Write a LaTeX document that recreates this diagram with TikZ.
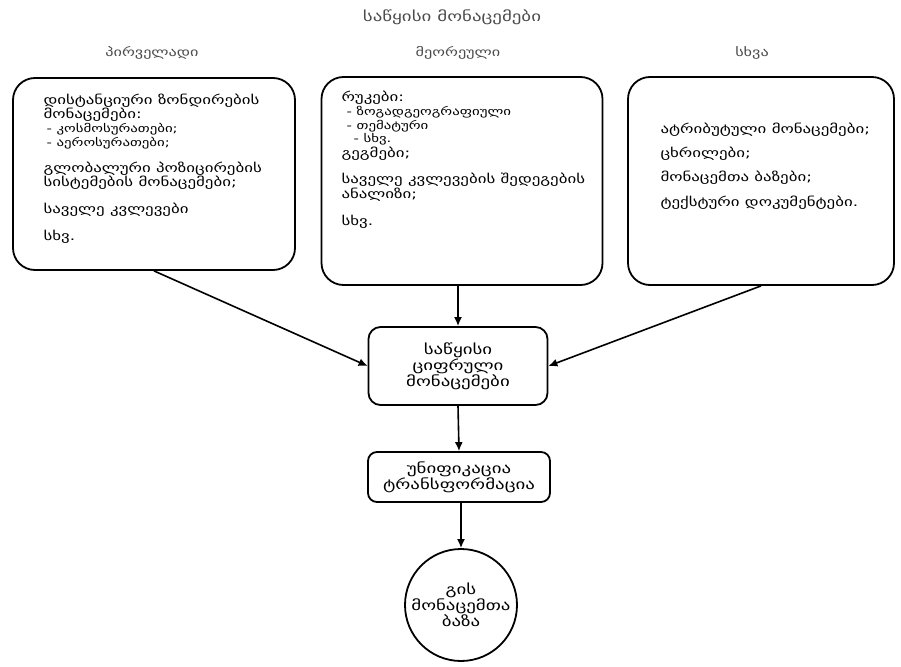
\documentclass[tikz,border=0pt]{standalone}
\usepackage{fontspec}
\setmainfont[FakeStretch=1.35]{DejaVu Sans}
\usetikzlibrary{positioning,arrows.meta}
\newcommand{\subfs}{\fontsize{11}{12}\selectfont}
\begin{document}
\begin{tikzpicture}[x=1pt, y=-1pt, every node/.style={align=left},
    font=\fontsize{12.5}{13}\selectfont]
    \tikzset{
      srcbox/.style={
        draw,
        line width=1.8pt,
        rounded corners=22pt,
        inner sep=0pt
      },
      stepbox/.style={
        draw,
        line width=1.8pt,
        rounded corners=12pt,
        align=center,
        inner sep=2pt,
        font=\fontsize{14}{13.5}\selectfont
      },
      header/.style={text=black!70, align=center, font=\fontsize{12}{12}\selectfont},
      flow/.style={-{Latex[length=9pt,width=8pt]}, line width=1.6pt}
    }
    \useasboundingbox (0,0) rectangle (901,666);
    % title and column headers
    \node[header, font=\fontsize{14}{14}\selectfont] (title) at (452,17) {საწყისი მონაცემები};
    \node[header] (hprim) at (152,53) {პირველადი};
    \node[header] (hsec) at (458,53) {მეორეული};
    \node[header] (hoth) at (752,53) {სხვა};
    % source boxes
    \node[srcbox, minimum width=282pt, minimum height=192pt] (prim) at (154,174) {};
    \node[srcbox, minimum width=281pt, minimum height=208pt] (sec) at (462,181) {};
    \node[srcbox, minimum width=266pt, minimum height=208pt] (oth) at (761,181) {};
    \node[anchor=north west] (primtxt) at (40,90) {%
      დისტანციური ზონდირების\\
      მონაცემები:\\[1.5pt]
      {\subfs\hspace{3pt}- კოსმოსურათები;}\\[0.5pt]
      {\subfs\hspace{3pt}- აეროსურათები;}\\[12pt]
      გლობალური პოზიცირების\\
      სისტემების მონაცემები;\\[12pt]
      საველე კვლევები\\[13pt]
      სხვ.};
    \node[anchor=north west] (sectxt) at (338,87) {%
      რუკები:\\[1.5pt]
      {\subfs\hspace{5pt}- ზოგადგეოგრაფიული}\\[0.5pt]
      {\subfs\hspace{5pt}- თემატური}\\[0.5pt]
      {\subfs\hspace{12pt}- სხვ.}\\[1pt]
      გეგმები;\\[12pt]
      საველე კვლევების შედეგების\\
      ანალიზი;\\[13pt]
      სხვ.};
    \node[anchor=north west] (othtxt) at (657,119) {%
      ატრიბუტული მონაცემები;\\[10pt]
      ცხრილები;\\[10pt]
      მონაცემთა ბაზები;\\[10pt]
      ტექსტური დოკუმენტები.};
    % processing chain
    \node[stepbox, minimum width=179pt, minimum height=78pt] (digital) at (458,366)
      {საწყისი\\ციფრული\\მონაცემები};
    \node[stepbox, minimum width=182pt, minimum height=50pt, rounded corners=9pt] (unify) at (459,477)
      {უნიფიკაცია\\ტრანსფორმაცია};
    \node[draw, circle, line width=1.8pt, minimum size=112pt, align=center, inner sep=0pt,
      font=\fontsize{14}{14.5}\selectfont] (gisdb) at (461,605)
      {გის\\მონაცემთა\\ბაზა};
    \draw[flow] (prim.south) -- (digital.west);
    \draw[flow] (sec.south -| digital.north) -- (digital.north);
    \draw[flow] (oth.south) -- (digital.east);
    \draw[flow] (digital.south) -- (unify.north);
    \draw[flow] (unify.south -| gisdb.north) -- (gisdb.north);
  \end{tikzpicture}
\end{document}
